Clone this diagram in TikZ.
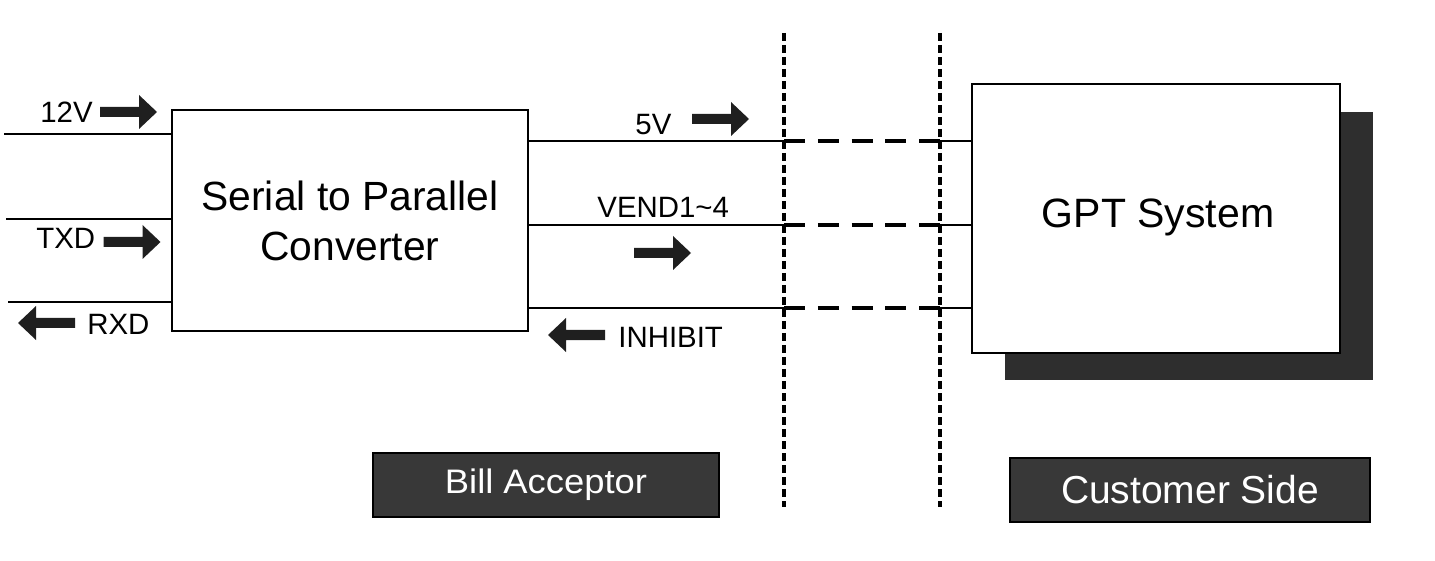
\documentclass[tikz,border=0pt]{standalone}
\usepackage{fontspec}
\setmainfont{Liberation Sans}
\newfontfamily\stretchedfont[FakeStretch=1.07]{Liberation Sans}
\begin{document}
\begin{tikzpicture}[x=0.5pt,y=-0.5pt,
  wire/.style={line width=1pt},
  linkdash/.style={line width=2pt, dash pattern=on 10.5pt off 6.4pt},
  sidedash/.style={line width=1.7pt, dash pattern=on 4pt off 2pt},
  block/.style={draw, line width=1.3pt, fill=white, align=center, inner sep=0pt},
  tagbox/.style={draw, line width=1.2pt, fill=black!78, text=white, inner sep=0pt},
  lbl/.style={inner sep=0pt, font=\fontsize{14.7}{17}\selectfont},
  arrowfill/.style={fill=black!88},
  fatarrow/.pic={\fill[arrowfill] (-28.5,-5) -- (10.5,-5) -- (10.5,-17) -- (28.5,0) -- (10.5,17) -- (10.5,5) -- (-28.5,5) -- cycle;}
]
\useasboundingbox (0,0) rectangle (1435,561);

% blocks
\node[block, minimum width=178pt, minimum height=110.5pt,
      font=\fontsize{20.4}{25}\selectfont] (conv) at (350,220.5)
      {Serial to Parallel\\Converter};
\node[draw=none, fill=black!82, minimum width=184pt, minimum height=134pt, inner sep=0pt] (shadow) at (1189,246) {};
\node[block, minimum width=184pt, minimum height=134.5pt] (gpt) at (1156,218.5) {};
\node[anchor=base, inner sep=0pt, font=\fontsize{20.5}{24}\selectfont] (gpttext) at (1158,228) {GPT System};

% tags
\node[tagbox, minimum width=173pt, minimum height=32pt,
      font=\stretchedfont\fontsize{17}{20}\selectfont] (bill) at (546,485) {Bill Acceptor};
\node[tagbox, minimum width=180pt, minimum height=32pt,
      font=\fontsize{19.5}{22}\selectfont] (cust) at (1190,490) {Customer Side};

% boundary lines
\coordinate (v1top) at (784,33);
\coordinate (v1bot) at (784,507);
\coordinate (v2top) at (940,33);
\coordinate (v2bot) at (940,507);
\draw[sidedash] (v1top) -- (v1bot);
\draw[sidedash] (v2top) -- (v2bot);

% left wires
\coordinate (in12) at (4,134);
\coordinate (intxd) at (6,219);
\coordinate (inrxd) at (8,302);
\draw[wire] (in12) -- (in12 -| conv.west);
\draw[wire] (intxd) -- (intxd -| conv.west);
\draw[wire] (inrxd) -- (inrxd -| conv.west);

% right wires
\foreach \yy/\nm in {141/p5, 225/vend, 308/inh} {
  \coordinate (\nm) at (0,\yy);
  \draw[wire] (conv.east |- \nm) -- (v1top |- \nm);
  \draw[linkdash] (v1top |- \nm) -- (v2top |- \nm);
  \draw[wire] (v2top |- \nm) -- (gpt.west |- \nm);
}

% labels
\node[lbl, anchor=base west] (l12) at (40,123) {12V};
\node[lbl, anchor=base west] (ltxd) at (36,249) {TXD};
\node[lbl, anchor=base west] (lrxd) at (87,335) {RXD};
\node[lbl, anchor=base west] (l5) at (635,135) {5V};
\node[lbl, anchor=base west] (lvend) at (597,218) {VEND1\char"7E 4};
\node[lbl, anchor=base west] (linh) at (618,348) {INHIBIT};

% block arrows
\pic (a12) at (128.5,112) {fatarrow};
\pic (atxd) at (132,242) {fatarrow};
\pic[xscale=-1] (arxd) at (46.5,323) {fatarrow};
\pic (a5) at (720.5,119) {fatarrow};
\pic (avend) at (662.5,253) {fatarrow};
\pic[xscale=-1] (ainh) at (576.5,335) {fatarrow};
\end{tikzpicture}
\end{document}
